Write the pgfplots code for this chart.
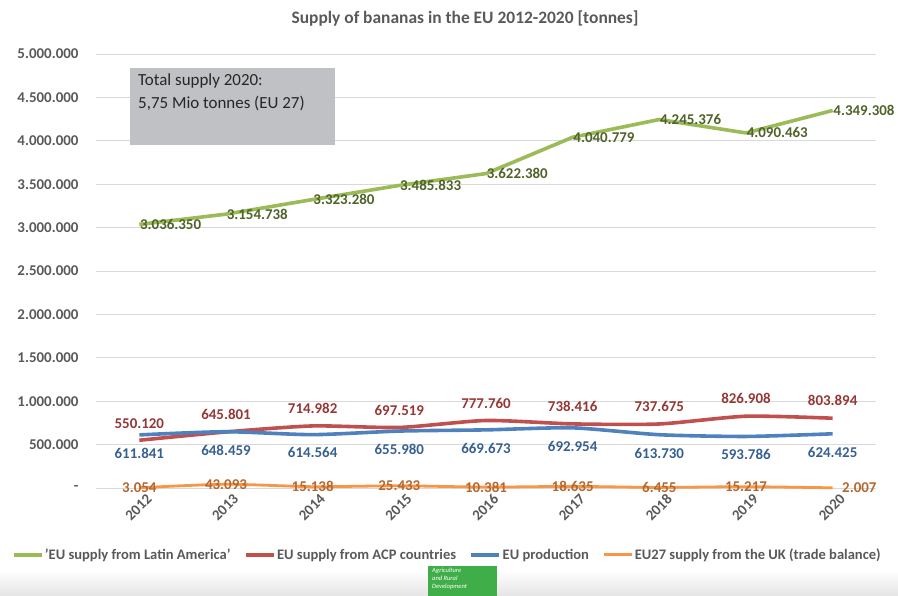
\documentclass[border=0pt]{standalone}
\usepackage{pgfplots}
\pgfplotsset{compat=1.18}
\usepackage{fontspec}
\setmainfont{Carlito}

\definecolor{lagreen}{HTML}{9BBB59}
\definecolor{lagreenlab}{HTML}{4F6228}
\definecolor{acpred}{HTML}{C0504D}
\definecolor{acpredlab}{HTML}{953735}
\definecolor{eublue}{HTML}{4F81BD}
\definecolor{eubluelab}{HTML}{376092}
\definecolor{ukorange}{HTML}{F79646}
\definecolor{ukorangelab}{HTML}{B4672F}
\definecolor{gridgray}{HTML}{D9D9D9}
\definecolor{labgray}{HTML}{595959}
\definecolor{boxgray}{HTML}{BFC1C4}
\definecolor{logogreen}{HTML}{3FAE49}

\begin{document}
\begin{tikzpicture}
\path[use as bounding box] (0,0) rectangle (898bp,596bp);
\fill[top color=white, bottom color=black!10] (0,0) rectangle (898bp,26bp);

\begin{axis}[
  at={(96bp,108bp)}, anchor=south west,
  scale only axis, width=780bp, height=434bp,
  xmin=-0.5, xmax=8.5, ymin=0, ymax=5000000,
  scaled y ticks=false,
  xtick={0,1,2,3,4,5,6,7,8},
  xticklabels={2012,2013,2014,2015,2016,2017,2018,2019,2020},
  ytick={0,500000,1000000,1500000,2000000,2500000,3000000,3500000,4000000,4500000,5000000},
  yticklabels={{-\hspace{8bp}},500.000,1.000.000,1.500.000,2.000.000,2.500.000,3.000.000,3.500.000,4.000.000,4.500.000,5.000.000},
  ymajorgrids, grid style={draw=gridgray, line width=0.8bp},
  axis line style={draw=none}, tick style={draw=none},
  tick label style={font=\fontsize{15}{17}\selectfont\bfseries, text=labgray},
  xticklabel style={rotate=45, anchor=north east, inner sep=1bp, yshift=-7bp, xshift=2bp},
  yticklabel style={anchor=east, xshift=-14bp},
  clip=false,
  legend columns=4,
  legend style={at={(0.45,-0.154)}, anchor=center, draw=none, fill=none,
    font=\fontsize{14.6}{17}\selectfont\bfseries, text=labgray,
    /tikz/every even column/.append style={column sep=12bp},
    nodes={inner sep=1.5bp}},
  legend image code/.code={\draw[#1] (0bp,0bp) -- (28bp,0bp);},
  every node near coord/.append style={font=\fontsize{15}{17}\selectfont\bfseries},
]

\addplot[lagreen, line width=3.6bp, line join=round,
  nodes near coords, point meta=explicit symbolic,
  every node near coord/.append style={anchor=west, text=lagreenlab, inner sep=1bp, xshift=-2bp}]
  coordinates {
  (0,3036350) [3.036.350]
  (1,3154738) [3.154.738]
  (2,3323280) [3.323.280]
  (3,3485833) [3.485.833]
  (4,3622380) [3.622.380]
  (5,4040779) [4.040.779]
  (6,4245376) [4.245.376]
  (7,4090463) [4.090.463]
  (8,4349308) [4.349.308]
  };
\addlegendentry{'EU supply from Latin America'}

\addplot[acpred, line width=3.6bp, smooth, tension=0.4,
  nodes near coords, point meta=explicit symbolic,
  every node near coord/.append style={anchor=south, text=acpredlab, yshift=7bp}]
  coordinates {
  (0,550120) [550.120]
  (1,645801) [645.801]
  (2,714982) [714.982]
  (3,697519) [697.519]
  (4,777760) [777.760]
  (5,738416) [738.416]
  (6,737675) [737.675]
  (7,826908) [826.908]
  (8,803894) [803.894]
  };
\addlegendentry{EU supply from ACP countries}

\addplot[eublue, line width=3.6bp, smooth, tension=0.4,
  nodes near coords, point meta=explicit symbolic,
  every node near coord/.append style={anchor=north, text=eubluelab, yshift=-8bp}]
  coordinates {
  (0,611841) [611.841]
  (1,648459) [648.459]
  (2,614564) [614.564]
  (3,655980) [655.980]
  (4,669673) [669.673]
  (5,692954) [692.954]
  (6,613730) [613.730]
  (7,593786) [593.786]
  (8,624425) [624.425]
  };
\addlegendentry{EU production}

\addplot[ukorange, line width=2.8bp, smooth, tension=0.4,
  nodes near coords, point meta=explicit symbolic,
  every node near coord/.append style={anchor=center, text=ukorangelab}]
  coordinates {
  (0,3054) [3.054]
  (1,43093) [43.093]
  (2,15138) [15.138]
  (3,25433) [25.433]
  (4,10381) [10.381]
  (5,18635) [18.635]
  (6,6455) [6.455]
  (7,15217) [15.217]
  (8,2007) []
  };
\addlegendentry{EU27 supply from the UK (trade balance)}

\addplot[draw=none, forget plot,
  nodes near coords, point meta=explicit symbolic,
  every node near coord/.append style={anchor=west, text=ukorangelab, xshift=6bp}]
  coordinates {(8,2007) [2.007]};
\end{axis}

\node[font=\fontsize{17.5}{20}\selectfont\bfseries, text=labgray] at (465bp,577bp)
  {Supply of bananas in the EU 2012-2020 [tonnes]};

\fill[boxgray] (130bp,451bp) rectangle (335bp,528bp);
\node[anchor=north west, align=left, inner sep=0pt,
  font=\fontsize{17}{23}\selectfont, text=black!85] at (138bp,522bp)
  {Total supply 2020:\\5,75 Mio tonnes (EU 27)};

\fill[logogreen] (428bp,0bp) rectangle (497bp,30bp);
\node[anchor=north west, align=left, inner sep=0pt, text=white,
  font=\fontsize{6.5}{8}\selectfont\itshape] at (432bp,28bp)
  {Agriculture\\and Rural\\Development};
\end{tikzpicture}
\end{document}
